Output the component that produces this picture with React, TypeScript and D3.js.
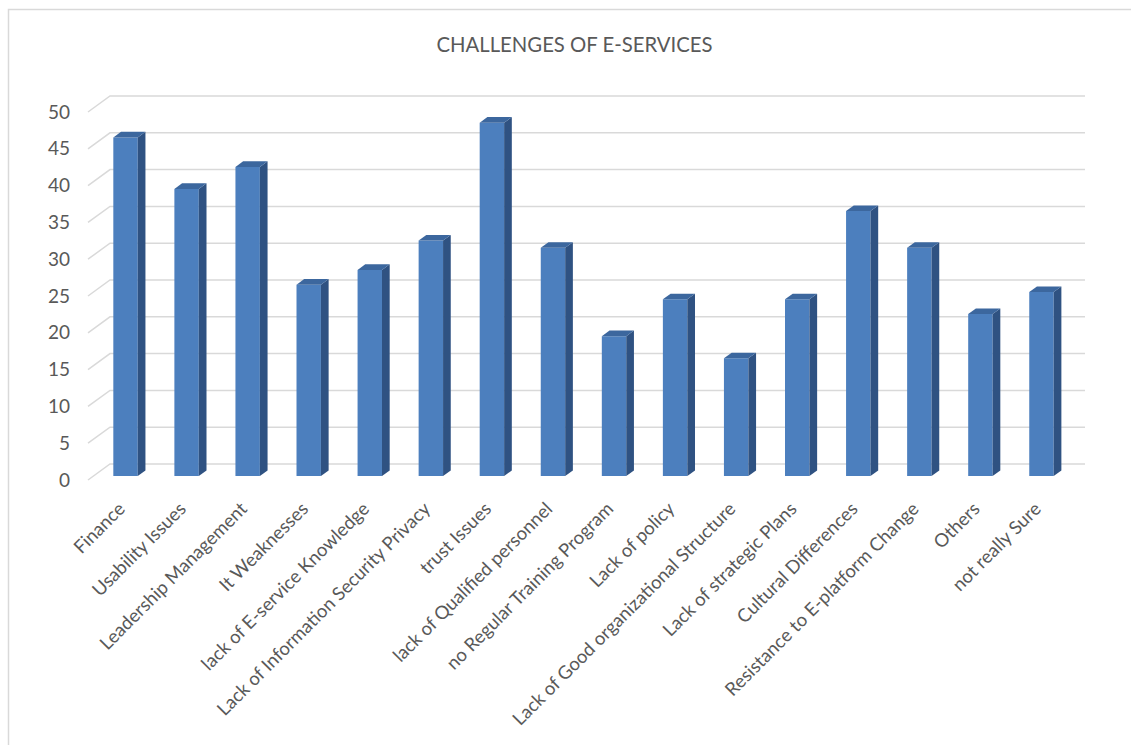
import React from "react";
import * as d3 from "d3";

const categories = [
  "Finance",
  "Usability Issues",
  "Leadership Management",
  "It Weaknesses",
  "lack of E-service Knowledge",
  "Lack of Information Security Privacy",
  "trust Issues",
  "lack of Qualified personnel",
  "no Regular Training Program",
  "Lack of policy",
  "Lack of Good organizational Structure",
  "Lack of strategic Plans",
  "Cultural Differences",
  "Resistance to E-platform Change",
  "Others",
  "not really Sure",
];
const values = [46, 39, 42, 26, 28, 32, 48, 31, 19, 24, 16, 24, 36, 31, 22, 25];
const yTicks = [0, 5, 10, 15, 20, 25, 30, 35, 40, 45, 50];
const title = "CHALLENGES OF E-SERVICES";

const W = 1131;
const H = 745;
const DEPTH = { dx: 22, dy: -16 };
const FRONT_X0 = 88;
const FRONT_X1 = 1063;

export default function App() {
  const y = d3.scaleLinear().domain([0, 50]).range([480, 112]);
  const x = d3.scaleBand<string>().domain(categories).range([89.5, 1066.5]).padding(0);
  const step = x.step();
  const barW = step * 0.4;
  const fFront = 0.25;
  const fBack = 0.6;
  const pt = (xf: number, v: number, f: number): [number, number] => [
    xf + DEPTH.dx * f,
    y(v) + DEPTH.dy * f,
  ];
  const poly = (pts: [number, number][]) => pts.map((p) => p.join(",")).join(" ");
  const font = "Lato, 'Open Sans', sans-serif";
  const textColor = "#595959";

  return (
    <svg
      width={W}
      height={H}
      style={{ position: "absolute", left: 0, top: 0, display: "block", background: "#fff" }}
    >
      <rect x={8.5} y={9.5} width={1200} height={800} fill="#fff" stroke="#d9d9d9" strokeWidth={1.5} />
      <text
        x={574.5}
        y={52}
        textAnchor="middle"
        fontFamily={font}
        fontSize={20.3}
        fill={textColor}
      >
        {title}
      </text>
      {yTicks.map((t) => {
        const [fx, fy] = pt(FRONT_X0, t, 0);
        const [bx, by] = pt(FRONT_X0, t, 1);
        const [ex, ey] = pt(FRONT_X1, t, 1);
        return (
          <g key={t}>
            <polyline
              points={poly([
                [fx, fy],
                [bx, by],
                [ex, ey],
              ])}
              fill="none"
              stroke="#d9d9d9"
              strokeWidth={1.5}
            />
            <text
              x={70}
              y={fy}
              dy="0.35em"
              textAnchor="end"
              fontFamily={font}
              fontSize={19}
              fill={textColor}
            >
              {t}
            </text>
          </g>
        );
      })}
      {categories.map((c, i) => {
        const v = values[i];
        const cx = (x(c) as number) + step / 2;
        const xl = cx - barW / 2;
        const xr = cx + barW / 2;
        const ftl = pt(xl, v, fFront);
        const ftr = pt(xr, v, fFront);
        const fbl = pt(xl, 0, fFront);
        const fbr = pt(xr, 0, fFront);
        const btl = pt(xl, v, fBack);
        const btr = pt(xr, v, fBack);
        const bbr = pt(xr, 0, fBack);
        return (
          <g key={c}>
            <polygon points={poly([fbl, ftl, ftr, fbr])} fill="#4C7FBE" />
            <polygon points={poly([ftr, btr, bbr, fbr])} fill="#2F5282" />
            <polygon points={poly([ftl, btl, btr, ftr])} fill="#3C679E" />
          </g>
        );
      })}
      {categories.map((c) => {
        const cx = (x(c) as number) + step / 2;
        return (
          <text
            key={c}
            transform={`translate(${cx + 1.5},${505.5}) rotate(-45)`}
            dy="0.35em"
            textAnchor="end"
            fontFamily={font}
            fontSize={18.5}
            fill={textColor}
          >
            {c}
          </text>
        );
      })}
    </svg>
  );
}
